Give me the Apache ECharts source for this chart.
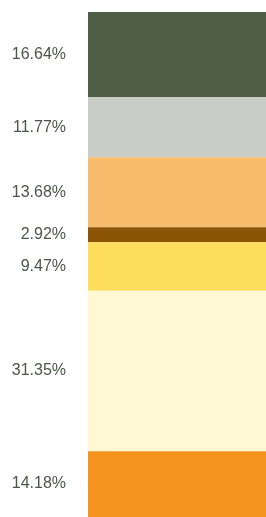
<!DOCTYPE html>
<html>
<head>
<meta charset="utf-8">
<script src="https://cdn.jsdelivr.net/npm/echarts@6/dist/echarts.min.js"></script>
<style>
  html, body { margin: 0; padding: 0; background: #fff; }
  #chart { width: 266px; height: 517px; }
</style>
</head>
<body>
<div id="chart"></div>
<script>
// segments, top to bottom
var segmentNames = ['s1', 's2', 's3', 's4', 's5', 's6', 's7'];
var segmentValues = [16.64, 11.77, 13.68, 2.92, 9.47, 31.35, 14.18];
var segmentColors = ['#4e5f45', '#c9ccc7', '#f8bd6c', '#8b5304', '#fedd5c', '#fff8d3', '#f4941f'];

var chart = echarts.init(document.getElementById('chart'));

var series = segmentNames.map(function (name, i) {
    return {
        name: name,
        type: 'bar',
        stack: 'total',
        barWidth: '100%',
        data: [segmentValues[i]],
        itemStyle: { color: segmentColors[i] },
        label: {
            show: true,
            position: 'left',
            distance: 22,
            color: '#4b5649',
            fontFamily: 'Liberation Sans, Arial, sans-serif',
            fontSize: 16,
            formatter: function (p) { return p.value.toFixed(2) + '%'; }
        },
        silent: true
    };
});

var option = {
    animation: false,
    grid: { left: 88, top: 12, right: 0, bottom: 0 },
    xAxis: { type: 'category', data: ['a'], show: false },
    // the bottom segment runs past the picture edge, so the axis stops short of 100
    yAxis: { type: 'value', min: 0, max: 98.7, inverse: true, show: false },
    series: series
};

chart.setOption(option);
</script>
</body>
</html>
